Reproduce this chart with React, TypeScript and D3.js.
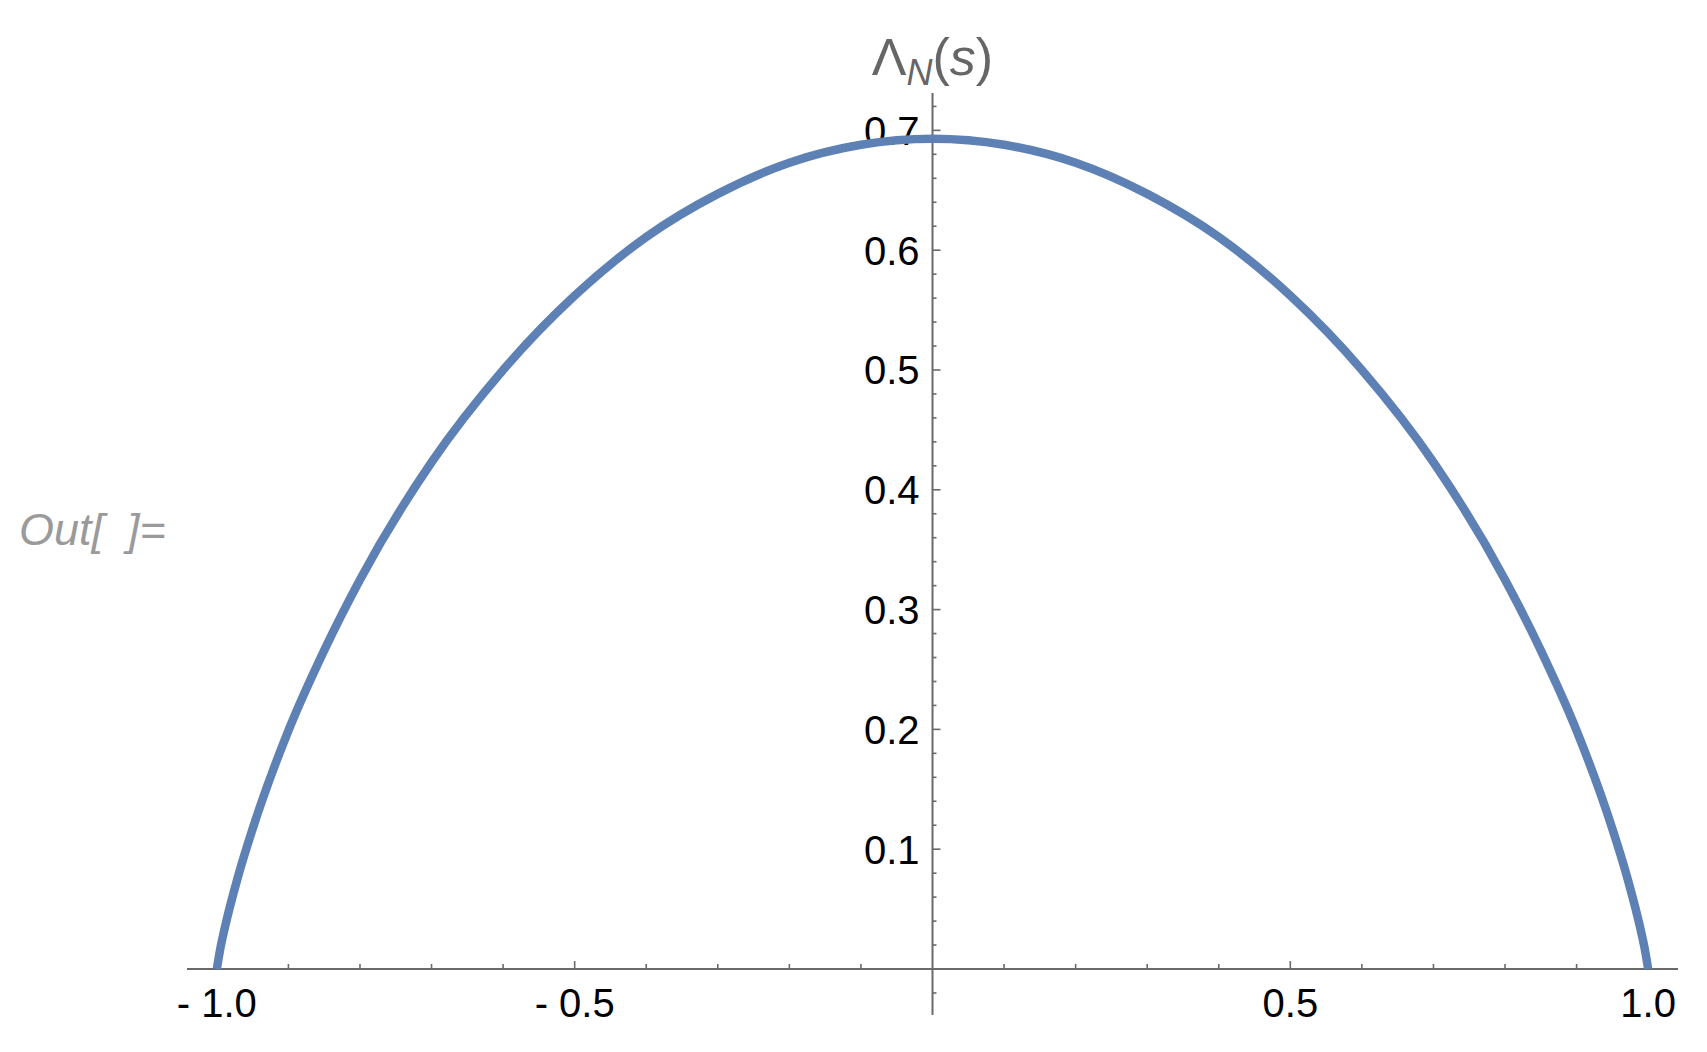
import React from 'react';
import { scaleLinear, line, curveMonotoneX, range } from 'd3';

// curve (symmetric about s = 0)
const sValues = [
  -1, -0.995, -0.99, -0.97, -0.95, -0.9, -0.85, -0.8, -0.7, -0.6, -0.5, -0.4, -0.3, -0.2, -0.1,
  0, 0.1, 0.2, 0.3, 0.4, 0.5, 0.6, 0.7, 0.8, 0.85, 0.9, 0.95, 0.97, 0.99, 0.995, 1,
];
const lambdaValues = [
  0, 0.0175, 0.0315, 0.078, 0.117, 0.199, 0.266, 0.325, 0.423, 0.5, 0.562, 0.611, 0.647, 0.673, 0.688,
  0.693, 0.688, 0.673, 0.647, 0.611, 0.562, 0.5, 0.423, 0.325, 0.266, 0.199, 0.117, 0.078, 0.0315, 0.0175, 0,
];

const xTickValues = [-1, -0.5, 0.5, 1];
const xTickLabels = ['- 1.0', '- 0.5', '0.5', '1.0'];
const yTickValues = [0.1, 0.2, 0.3, 0.4, 0.5, 0.6, 0.7];
const yTickLabels = ['0.1', '0.2', '0.3', '0.4', '0.5', '0.6', '0.7'];

const W = 1707;
const H = 1052;
const axisColor = '#6a6a6a';
const curveColor = '#5E81B5';
const font = '"Liberation Sans", Arial, sans-serif';

const App = () => {
  const x = scaleLinear().domain([-1.0417, 1.0417]).range([187, 1678]);
  const y = scaleLinear().domain([-0.0384, 0.7312]).range([1015, 93]);

  const x0 = x(0);
  const y0 = y(0);

  const pts = sValues.map((s, i) => [s, lambdaValues[i]] as [number, number]);
  const path = line<[number, number]>()
    .x(d => x(d[0]))
    .y(d => y(d[1]))
    .curve(curveMonotoneX)(pts);

  // minor ticks every 0.1 on x, every 0.02 on y
  const xMinor = range(-10, 11)
    .map(i => i / 10)
    .filter(v => v !== 0 && !xTickValues.includes(v));
  const yMinor = range(-1, 37)
    .map(i => Math.round(i * 2) / 100)
    .filter(v => v !== 0 && !yTickValues.some(t => Math.abs(t - v) < 1e-9))
    .filter(v => y(v) >= 93 && y(v) <= 1015);

  return (
    <svg
      width={W}
      height={H}
      style={{ position: 'absolute', left: 0, top: 0, background: '#fff' }}
    >
      {/* Out[ ]= prompt */}
      <text x={19} y={545} fill="#9a9a9a" fontFamily={font} fontStyle="italic" fontSize={45}>
        Out[
      </text>
      <text x={127} y={545} fill="#9a9a9a" fontFamily={font} fontStyle="italic" fontSize={45}>
        ]=
      </text>

      {/* x axis */}
      <line x1={x.range()[0]} x2={x.range()[1]} y1={y0} y2={y0} stroke={axisColor} strokeWidth={2} />
      {xMinor.map(v => (
        <line key={'xm' + v} x1={x(v)} x2={x(v)} y1={y0} y2={y0 - 5} stroke={axisColor} strokeWidth={1.6} />
      ))}
      {xTickValues.map((v, i) => (
        <g key={'xt' + v}>
          <line x1={x(v)} x2={x(v)} y1={y0} y2={y0 - 8} stroke={axisColor} strokeWidth={1.6} />
          <text x={x(v)} y={y0 + 48} textAnchor="middle" fontFamily={font} fontSize={40} fill="#000">
            {xTickLabels[i]}
          </text>
        </g>
      ))}

      {/* y axis */}
      <line x1={x0} x2={x0} y1={y.range()[0]} y2={y.range()[1]} stroke={axisColor} strokeWidth={2} />
      {yMinor.map(v => (
        <line key={'ym' + v} x1={x0} x2={x0 + 4} y1={y(v)} y2={y(v)} stroke={axisColor} strokeWidth={1.6} />
      ))}
      {yTickValues.map((v, i) => (
        <g key={'yt' + v}>
          <line x1={x0} x2={x0 + 8} y1={y(v)} y2={y(v)} stroke={axisColor} strokeWidth={1.6} />
          <text x={x0 - 13} y={y(v) + 14.5} textAnchor="end" fontFamily={font} fontSize={40} fill="#000">
            {yTickLabels[i]}
          </text>
        </g>
      ))}

      {/* axis label */}
      <text x={x0} y={75} textAnchor="middle" fontFamily={font} fontSize={52} fill="#666">
        <tspan>Λ</tspan>
        <tspan fontStyle="italic" fontSize={36} dy={10}>N</tspan>
        <tspan dy={-10}>(</tspan>
        <tspan fontStyle="italic">s</tspan>
        <tspan>)</tspan>
      </text>

      {/* curve */}
      <path d={path ?? ''} fill="none" stroke={curveColor} strokeWidth={8.5} strokeLinejoin="round" />
    </svg>
  );
};

export default App;
